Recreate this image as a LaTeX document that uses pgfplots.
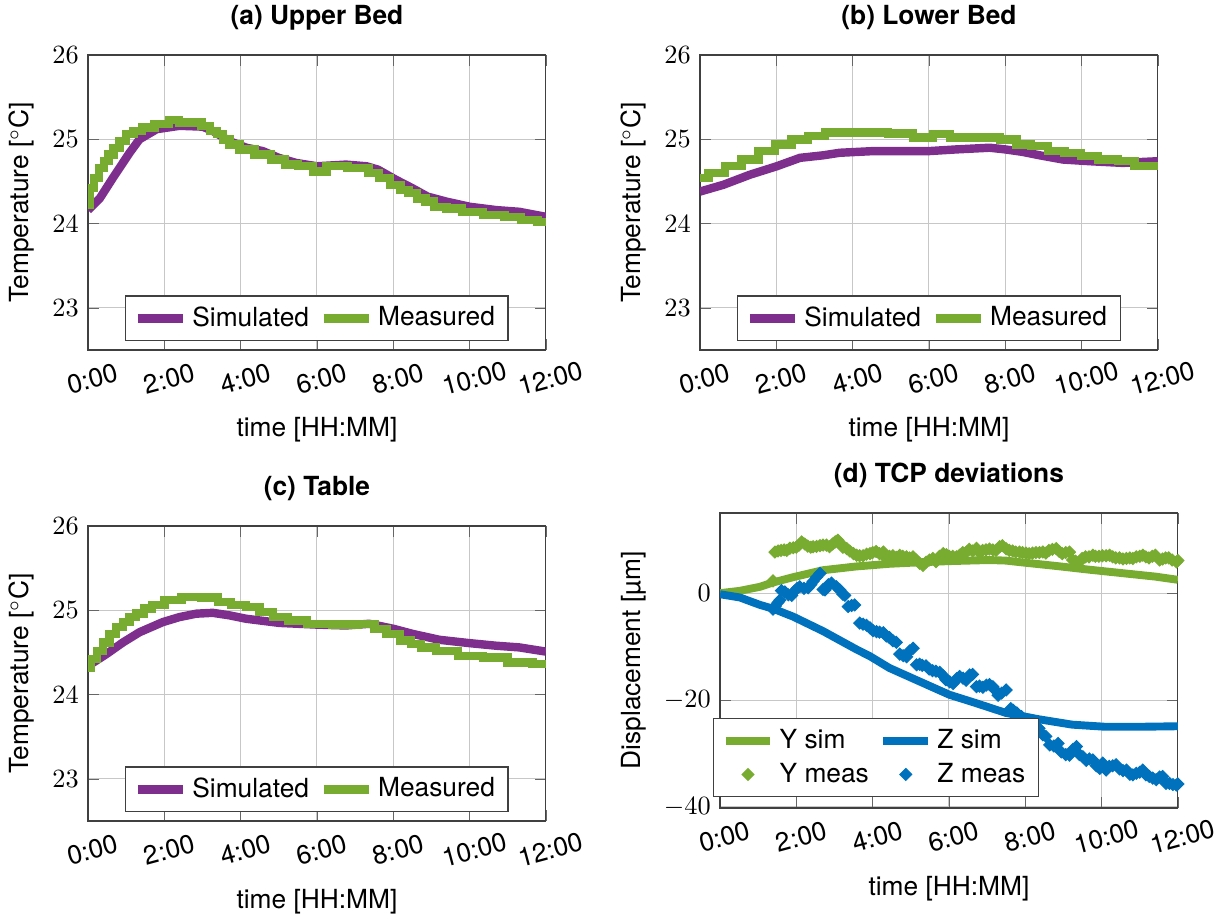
\documentclass[border=0pt]{standalone}
\usepackage{fontspec}
\setmainfont{TeX Gyre Heros}
\usepackage{pgfplots}
\pgfplotsset{compat=1.18}

\definecolor{mpurple}{rgb}{0.494,0.184,0.556}
\definecolor{mgreen}{rgb}{0.466,0.674,0.188}
\definecolor{mblue}{rgb}{0,0.447,0.741}

\pgfplotsset{
  base/.style={
    width=174pt, height=112.1pt, scale only axis,
    xmin=0, xmax=12, xtick={0,2,...,12},
    xticklabels={0:00,2:00,4:00,6:00,8:00,10:00,12:00},
    xticklabel style={rotate=15, anchor=center, inner sep=0.5pt, yshift=-11pt, xshift=-1pt},
    grid=major, major grid style={black!22},
    axis line style={black!75}, tick style={black!60},
    title style={font=\bfseries},
    xlabel={time [HH:MM]},
    xlabel style={yshift=-4pt},
    legend cell align=left,
    legend style={draw=black!75, /tikz/every even column/.append style={column sep=2pt}},
  },
  temp/.style={base, ymin=22.5, ymax=26, ytick={23,24,25,26},
    ylabel={Temperature [$^\circ$C]},
    legend columns=2, legend style={at={(0.5,0.03)}, anchor=south}},
  sim/.style={mpurple, line width=3.2pt, no marks},
  meas/.style={mgreen, line width=3.2pt, no marks, const plot mark mid},
  dmark/.style={only marks, mark=square*, mark size=1.6pt, mark options={rotate=45}},
}

\begin{document}
\begin{tikzpicture}
\path[use as bounding box] (0,0) rectangle (462.46pt,-348.46pt);

% (a) upper bed
\begin{axis}[temp, at={(33.44pt,-133pt)}, anchor=south west, title={(a) Upper Bed}]
\addplot[sim] coordinates {(0,24.16)(0.31,24.3)(0.65,24.54)(1.09,24.84)(1.35,25.0)(1.8,25.12)(2.4,25.16)(3.0,25.15)(3.27,25.1)(3.7,24.98)(4.15,24.9)(4.58,24.86)(5.0,24.78)(5.45,24.72)(6.0,24.68)(6.76,24.7)(7.3,24.68)(7.6,24.64)(8.07,24.52)(8.5,24.42)(8.9,24.32)(9.4,24.26)(10.0,24.2)(10.7,24.16)(11.3,24.14)(12.0,24.08)};
\addplot[meas] coordinates {(0,24.22)(0.1,24.42)(0.22,24.54)(0.35,24.66)(0.48,24.74)(0.6,24.82)(0.74,24.9)(0.9,24.98)(1.09,25.06)(1.3,25.1)(1.53,25.14)(1.96,25.18)(2.28,25.23)(2.5,25.2)(2.84,25.2)(3.1,25.16)(3.3,25.1)(3.45,25.06)(3.62,25.0)(3.8,24.94)(4.14,24.88)(4.58,24.82)(5.02,24.76)(5.3,24.7)(5.7,24.68)(6.1,24.62)(6.4,24.68)(7.2,24.66)(7.5,24.6)(7.75,24.54)(8.07,24.46)(8.3,24.4)(8.5,24.36)(8.75,24.3)(8.94,24.26)(9.2,24.2)(9.6,24.18)(10.0,24.14)(10.7,24.1)(11.13,24.08)(11.56,24.04)(12.0,24.02)};
\legend{Simulated, Measured}
\end{axis}

% (b) lower bed
\begin{axis}[temp, at={(266pt,-133pt)}, anchor=south west, title={(b) Lower Bed}]
\addplot[sim] coordinates {(0,24.38)(0.61,24.46)(1.31,24.58)(2.01,24.68)(2.62,24.78)(3.23,24.81)(3.66,24.84)(4.54,24.86)(6.0,24.86)(6.72,24.88)(7.59,24.9)(8.0,24.88)(8.46,24.85)(8.9,24.81)(9.51,24.76)(10.21,24.74)(11.08,24.72)(12.0,24.74)};
\addplot[meas] coordinates {(0,24.54)(0.44,24.6)(0.87,24.68)(1.31,24.76)(1.75,24.86)(2.18,24.94)(2.62,25.0)(3.05,25.04)(3.49,25.08)(4.54,25.08)(5.32,25.07)(5.85,25.02)(6.37,25.06)(6.72,25.02)(7.59,25.02)(8.12,25.0)(8.46,24.94)(8.9,24.92)(9.34,24.86)(9.77,24.84)(10.21,24.8)(10.65,24.76)(11.26,24.74)(11.52,24.68)(12.0,24.68)};
\legend{Simulated, Measured}
\end{axis}

% (c) table
\begin{axis}[temp, at={(33.44pt,-311.98pt)}, anchor=south west, title={(c) Table}]
\addplot[sim] coordinates {(0,24.34)(0.48,24.48)(0.92,24.62)(1.35,24.74)(1.96,24.86)(2.4,24.92)(2.84,24.96)(3.27,24.97)(3.71,24.94)(4.14,24.9)(5.02,24.85)(6.02,24.83)(6.76,24.82)(7.37,24.84)(8.01,24.78)(8.51,24.72)(9.21,24.65)(10.01,24.61)(10.69,24.58)(11.3,24.56)(12.0,24.51)};
\addplot[meas] coordinates {(0,24.32)(0.15,24.42)(0.31,24.52)(0.48,24.62)(0.65,24.72)(0.82,24.8)(1.0,24.86)(1.18,24.92)(1.35,24.96)(1.57,25.02)(1.79,25.06)(2.23,25.12)(2.66,25.16)(3.27,25.15)(3.53,25.1)(3.97,25.06)(4.32,25.04)(4.67,24.98)(5.02,24.92)(5.45,24.88)(6.02,24.84)(6.76,24.83)(7.37,24.84)(7.64,24.78)(8.01,24.72)(8.33,24.64)(8.6,24.6)(8.86,24.56)(9.38,24.52)(10.01,24.46)(10.69,24.44)(11.3,24.38)(12.0,24.36)};
\legend{Simulated, Measured}
\end{axis}

% (d) TCP deviations
\begin{axis}[base, at={(273.6pt,-307.04pt)}, anchor=south west, title={(d) TCP deviations},
  ymin=-40.2, ymax=15, ytick={-40,-20,0},
  ylabel={Displacement [µm]},
  legend columns=2,
  legend style={at={(-0.015,0.037)}, anchor=south west}]
\addplot[mgreen, line width=3pt, no marks] coordinates {(0,0)(0.52,0.44)(1.05,1.2)(1.39,2.0)(1.92,3.0)(2.7,4.3)(3.57,5.0)(4.44,5.5)(5.31,5.8)(6.01,6.0)(7.05,6.2)(7.49,6.1)(7.93,5.75)(8.8,5.1)(9.67,4.4)(10.54,3.75)(11.41,3.1)(12.0,2.5)};
\addplot[mblue, line width=3pt, no marks] coordinates {(0,-0.2)(0.52,-0.8)(1.05,-2.2)(1.39,-2.9)(1.92,-4.4)(2.7,-7.1)(3.57,-10.5)(3.93,-11.8)(4.44,-14.0)(5.35,-16.9)(6.01,-19.0)(6.72,-20.6)(7.49,-22.4)(8.36,-23.6)(9.23,-24.6)(10.1,-25.0)(10.98,-25.0)(12.0,-24.9)};
\addplot[mgreen, dmark] coordinates {(1.39,2.3)(1.44,7.7)(1.52,7.9)(1.6,8.0)(1.68,8.1)(1.75,8.0)(1.83,8.4)(1.92,8.5)(2.0,8.6)(2.07,9.0)(2.14,9.6)(2.22,9.2)(2.3,8.8)(2.38,8.6)(2.44,8.7)(2.53,8.75)(2.62,8.9)(2.7,9.0)(2.79,9.0)(2.87,8.7)(2.95,9.2)(3.02,9.6)(3.09,9.9)(3.16,9.3)(3.22,8.6)(3.32,8.35)(3.4,7.9)(3.5,7.4)(3.58,7.1)(3.66,7.0)(3.75,7.0)(3.84,7.3)(3.93,7.4)(4.0,7.6)(4.09,7.8)(4.18,7.4)(4.28,7.7)(4.36,6.5)(4.44,6.9)(4.53,7.0)(4.62,6.7)(4.71,7.1)(4.79,6.9)(4.89,6.8)(4.97,6.6)(5.06,6.8)(5.14,6.2)(5.23,5.6)(5.32,5.2)(5.4,5.8)(5.49,6.2)(5.58,6.5)(5.66,5.9)(5.75,6.9)(5.85,7.4)(5.93,7.2)(6.01,6.9)(6.1,6.9)(6.2,6.8)(6.28,7.1)(6.36,7.6)(6.46,7.7)(6.53,8.2)(6.62,7.9)(6.72,8.4)(6.8,7.6)(6.88,8.0)(6.97,8.1)(7.06,8.25)(7.15,8.1)(7.23,8.0)(7.33,8.7)(7.4,8.9)(7.5,8.3)(7.58,8.0)(7.67,7.9)(7.75,7.7)(7.85,7.7)(7.93,7.6)(8.02,7.5)(8.1,7.4)(8.19,7.5)(8.28,7.6)(8.37,7.6)(8.46,7.7)(8.54,7.5)(8.62,8.0)(8.71,8.2)(8.81,8.35)(8.89,7.8)(8.97,7.4)(9.06,7.6)(9.16,7.7)(9.24,6.2)(9.32,6.0)(9.42,5.85)(9.49,6.5)(9.58,6.8)(9.67,6.8)(9.77,7.1)(9.84,6.9)(9.93,6.9)(10.02,7.0)(10.12,7.0)(10.21,7.1)(10.29,6.8)(10.37,6.6)(10.47,6.6)(10.56,6.4)(10.65,6.5)(10.74,6.6)(10.82,6.5)(10.91,6.8)(11.0,6.9)(11.08,7.1)(11.16,6.8)(11.24,6.6)(11.33,6.9)(11.41,7.1)(11.52,6.2)(11.6,6.4)(11.68,6.6)(11.76,6.6)(11.85,6.2)(11.96,5.85)(12.0,6.1)};
\addplot[mblue, dmark] coordinates {(1.39,-3.0)(1.45,-2.4)(1.52,-1.75)(1.57,-1.3)(1.61,0.5)(1.7,0.25)(1.79,-0.3)(1.88,-0.4)(1.95,0.4)(2.02,0.9)(2.09,1.2)(2.2,0.9)(2.31,1.0)(2.38,1.6)(2.44,2.2)(2.53,3.0)(2.62,3.7)(2.7,0.7)(2.75,0.6)(2.84,1.6)(2.92,1.9)(3.05,1.2)(3.14,0.6)(3.22,-0.2)(3.27,-0.4)(3.36,-2.5)(3.45,-2.3)(3.53,-2.2)(3.66,-5.6)(3.75,-5.8)(3.84,-6.0)(3.93,-6.5)(4.01,-7.0)(4.1,-7.2)(4.18,-7.3)(4.28,-7.4)(4.36,-8.0)(4.44,-8.3)(4.53,-8.9)(4.62,-9.2)(4.71,-11.4)(4.8,-11.7)(4.89,-11.9)(4.97,-10.8)(5.06,-10.3)(5.15,-13.4)(5.23,-13.3)(5.3,-13.5)(5.4,-13.6)(5.48,-14.2)(5.57,-14.5)(5.66,-14.6)(5.76,-14.8)(5.84,-15.4)(5.92,-16.2)(6.02,-16.6)(6.11,-16.9)(6.2,-16.0)(6.28,-15.6)(6.37,-15.9)(6.45,-16.3)(6.54,-15.3)(6.62,-15.2)(6.72,-17.5)(6.8,-17.4)(6.89,-17.6)(6.98,-17.2)(7.06,-17.1)(7.15,-17.5)(7.22,-18.2)(7.29,-19.1)(7.38,-18.7)(7.5,-18.1)(7.62,-21.6)(7.68,-21.9)(7.78,-22.4)(7.9,-23.1)(7.98,-24.0)(8.07,-25.0)(8.19,-25.5)(8.29,-25.9)(8.36,-25.3)(8.46,-26.5)(8.54,-26.8)(8.64,-28.4)(8.75,-28.6)(8.86,-28.1)(8.94,-29.7)(9.06,-30.2)(9.16,-30.3)(9.25,-29.2)(9.34,-28.7)(9.42,-30.2)(9.51,-30.6)(9.6,-31.3)(9.68,-31.0)(9.77,-31.2)(9.86,-32.3)(9.95,-32.8)(10.03,-31.8)(10.12,-33.1)(10.2,-32.4)(10.29,-32.3)(10.38,-32.1)(10.47,-32.9)(10.56,-33.2)(10.65,-33.1)(10.74,-33.9)(10.82,-34.0)(10.91,-33.7)(11.0,-33.5)(11.08,-33.1)(11.16,-34.0)(11.25,-34.3)(11.34,-34.6)(11.43,-34.9)(11.52,-34.4)(11.6,-34.3)(11.69,-35.6)(11.78,-35.6)(11.87,-35.8)(11.96,-35.9)(12.0,-35.7)};
\legend{Y sim, Z sim, Y meas, Z meas}
\end{axis}
\end{tikzpicture}
\end{document}
